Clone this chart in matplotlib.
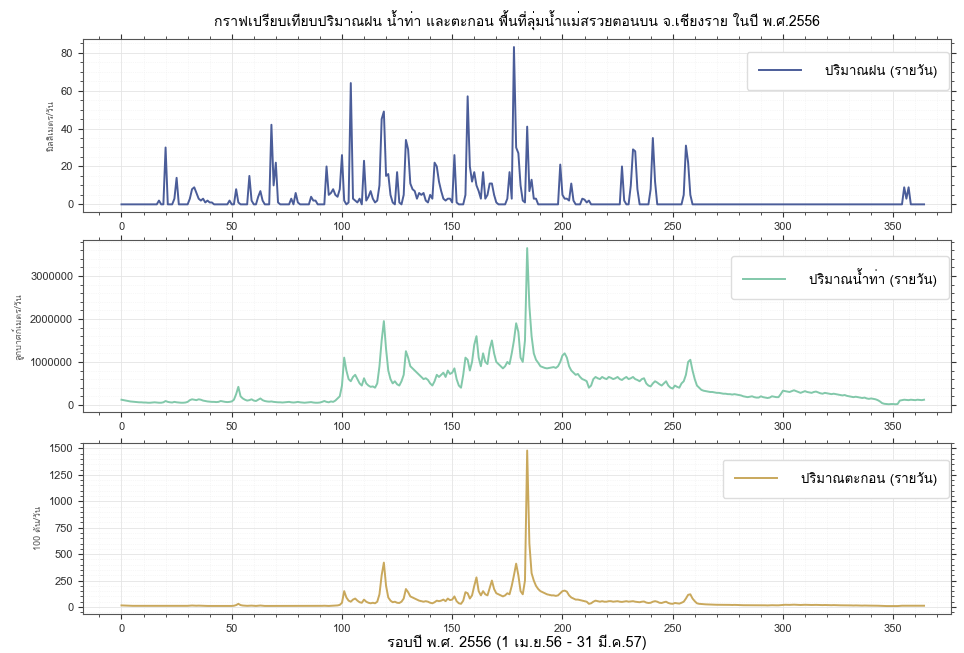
import numpy as np
import matplotlib.pyplot as plt
from matplotlib import font_manager
from matplotlib.ft2font import FT2Font
from matplotlib.ticker import AutoMinorLocator, MultipleLocator


def thai_family():
    # first installed family that carries Thai glyphs
    for f in font_manager.fontManager.ttflist:
        try:
            if 0x0E01 in FT2Font(f.fname).get_charmap():
                return f.name
        except Exception:
            continue
    return None


fam = thai_family()
plt.rcParams['font.family'] = ([fam] if fam else []) + ['DejaVu Sans']

# daily rainfall (mm), only the rainy days are listed
rain_days = [17, 20, 24, 25, 31, 32, 33, 34, 35, 36, 37, 38, 39, 40, 41,
             49, 52, 53, 58, 59, 62, 63, 64, 68, 69, 70, 71, 77, 79, 80,
             86, 87, 88, 93, 94, 95, 96, 97, 98, 99, 100, 101, 103,
             104, 105, 106, 107, 108, 110, 111, 112, 113, 114, 115, 116,
             117, 118, 119, 120, 121, 122, 123, 125, 126, 128, 129, 130,
             131, 132, 133, 134, 135, 136, 137, 138, 139, 140, 141, 142,
             143, 144, 145, 146, 147, 148, 149, 150, 151, 152, 156, 157,
             158, 159, 160, 161, 162, 163, 164, 165, 166, 167, 168, 169,
             170, 175, 176, 177, 178, 179, 180, 181, 182, 183, 184, 185,
             186, 187, 188, 199, 200, 201, 202, 203, 204, 205, 209, 210,
             211, 212, 227, 228, 231, 232, 233, 234, 240, 241, 242, 255,
             256, 257, 258, 355, 356, 357]
rain_mm = [2, 30, 3, 14, 3, 8, 9, 6, 3, 2, 3, 1, 2, 1, 1,
           2, 8, 1, 15, 2, 4, 7, 2, 42, 10, 22, 1, 3, 6, 1,
           4, 2, 2, 20, 5, 6, 8, 5, 4, 8, 26, 2, 1,
           64, 3, 2, 1, 3, 23, 2, 4, 7, 3, 1, 2,
           10, 45, 49, 15, 16, 5, 1, 17, 1, 5, 34, 29,
           11, 8, 7, 3, 6, 5, 6, 2, 1, 5, 3, 22,
           20, 12, 7, 3, 2, 3, 3, 1, 26, 1, 5, 57,
           20, 12, 17, 10, 7, 3, 17, 3, 5, 11, 11, 5,
           1, 3, 17, 3, 83, 30, 27, 10, 2, 1, 41, 7,
           13, 3, 3, 21, 5, 3, 3, 2, 11, 2, 3, 2.5,
           1, 2, 20, 2, 10, 29, 28, 8, 8, 35, 12, 5,
           31, 22, 5, 9, 3, 9]

# daily runoff, thousand m3
flow_k = [
    120, 110, 100, 90, 80, 75, 70, 65, 60, 60,
    55, 55, 50, 50, 55, 60, 55, 50, 50, 60,
    90, 70, 60, 55, 70, 60, 55, 50, 50, 55,
    70, 110, 130, 120, 110, 130, 120, 100, 90, 80,
    75, 70, 70, 65, 70, 90, 80, 70, 65, 70,
    80, 120, 250, 420, 200, 150, 120, 100, 110, 130,
    100, 90, 120, 150, 110, 90, 80, 75, 80, 70,
    65, 60, 60, 55, 60, 65, 70, 60, 55, 60,
    70, 60, 55, 50, 55, 60, 65, 55, 50, 50,
    55, 70, 90, 70, 60, 80, 70, 100, 150, 200,
    450, 1100, 800, 600, 550, 650, 700, 600, 500, 450,
    620, 500, 450, 420, 430, 400, 500, 900, 1500, 1950,
    1300, 800, 600, 500, 550, 480, 450, 550, 700, 1250,
    1100, 900, 850, 800, 750, 700, 650, 600, 620, 580,
    500, 450, 550, 700, 650, 700, 750, 650, 800, 720,
    750, 850, 600, 450, 400, 700, 1100, 1050, 800, 1000,
    1400, 1600, 1100, 900, 1200, 1000, 950, 1300, 1500, 1200,
    1000, 950, 900, 850, 900, 1000, 950, 1200, 1500, 1900,
    1700, 1100, 1000, 1500, 3650, 2300, 1600, 1200, 1050, 980,
    900, 880, 860, 850, 860, 870, 880, 860, 900, 1000,
    1150, 1200, 1100, 900, 800, 750, 700, 720, 650, 600,
    580, 550, 400, 450, 600, 650, 620, 600, 650, 620,
    600, 650, 630, 600, 620, 650, 600, 580, 620, 650,
    600, 620, 650, 600, 580, 550, 600, 620, 500, 450,
    430, 500, 550, 520, 480, 450, 500, 550, 450, 400,
    380, 450, 420, 400, 500, 550, 700, 1000, 1050, 800,
    600, 450, 400, 350, 330, 320, 310, 300, 300, 290,
    280, 280, 270, 260, 260, 250, 250, 240, 250, 240,
    230, 220, 200, 190, 180, 190, 200, 180, 170, 170,
    200, 180, 170, 160, 170, 200, 190, 180, 180, 250,
    330, 320, 310, 300, 320, 340, 320, 300, 280, 300,
    320, 300, 290, 280, 300, 310, 290, 270, 260, 280,
    270, 260, 250, 260, 250, 240, 230, 220, 230, 210,
    200, 190, 180, 190, 180, 170, 160, 170, 150, 140,
    150, 140, 130, 110, 80, 40, 25, 20, 15, 20,
    20, 15, 20, 100, 110, 120, 115, 110, 120, 115,
    110, 120, 115, 110, 120,
]

# daily suspended sediment, 100 t
sed = [
    15, 14, 13, 12, 12, 11, 11, 10, 10, 10,
    10, 10, 10, 10, 10, 10, 10, 10, 10, 10,
    12, 11, 10, 10, 11, 10, 10, 10, 10, 10,
    11, 13, 14, 13, 12, 13, 12, 11, 11, 10,
    10, 10, 10, 10, 10, 10, 10, 10, 10, 10,
    10, 12, 18, 30, 18, 14, 12, 11, 12, 13,
    11, 10, 12, 14, 12, 10, 10, 10, 10, 10,
    10, 10, 10, 10, 10, 10, 10, 10, 10, 10,
    10, 10, 10, 10, 10, 10, 10, 10, 10, 10,
    10, 11, 12, 11, 10, 11, 11, 12, 15, 20,
    40, 150, 90, 60, 50, 70, 80, 60, 45, 40,
    70, 50, 40, 35, 40, 35, 50, 120, 300, 420,
    200, 90, 60, 45, 50, 40, 38, 50, 80, 170,
    140, 100, 90, 80, 70, 60, 55, 50, 55, 50,
    40, 35, 45, 60, 55, 60, 70, 55, 80, 65,
    70, 100, 55, 35, 30, 60, 140, 130, 80, 110,
    200, 280, 150, 110, 150, 120, 110, 180, 250, 170,
    130, 120, 110, 100, 110, 130, 120, 200, 300, 410,
    300, 150, 120, 250, 1480, 600, 320, 250, 200, 170,
    150, 140, 130, 120, 115, 110, 110, 105, 110, 130,
    150, 155, 145, 110, 90, 80, 70, 70, 65, 60,
    55, 50, 30, 35, 50, 60, 55, 50, 55, 50,
    50, 55, 55, 50, 52, 55, 50, 48, 52, 55,
    50, 52, 55, 50, 48, 45, 50, 52, 42, 38,
    40, 50, 55, 50, 40, 38, 45, 50, 38, 32,
    30, 38, 35, 32, 40, 50, 80, 115, 120, 80,
    55, 35, 30, 28, 25, 25, 24, 23, 22, 22,
    21, 21, 20, 20, 20, 20, 20, 19, 20, 19,
    19, 18, 17, 17, 16, 17, 17, 16, 16, 16,
    17, 16, 16, 15, 16, 17, 16, 16, 16, 18,
    21, 21, 20, 20, 21, 22, 21, 20, 19, 20,
    21, 20, 19, 19, 20, 20, 19, 18, 18, 19,
    18, 18, 17, 18, 17, 17, 16, 16, 16, 15,
    15, 15, 14, 15, 14, 14, 13, 14, 13, 13,
    13, 13, 12, 12, 11, 10, 9, 9, 9, 9,
    9, 9, 9, 11, 12, 12, 12, 12, 12, 12,
    12, 12, 12, 12, 12,
]

days = np.arange(len(flow_k))
rain = np.zeros(len(days))
rain[rain_days] = rain_mm
flow = np.array(flow_k) * 1000

fig = plt.figure(figsize=(9.64, 6.53), dpi=100)
ax1 = fig.add_axes([0.086, 0.675, 0.9, 0.265])
ax2 = fig.add_axes([0.086, 0.369, 0.9, 0.263])
ax3 = fig.add_axes([0.086, 0.060, 0.9, 0.262])

series = [
    (ax1, rain, '#4b5d99', 'ปริมาณฝน (รายวัน)', 'มิลลิเมตร/วัน', (0.998, 0.925)),
    (ax2, flow, '#82c8aa', 'ปริมาณน้ำท่า (รายวัน)', 'ลูกบาศก์เมตร/วัน', (0.998, 0.907)),
    (ax3, sed, '#c9a85c', 'ปริมาณตะกอน (รายวัน)', '100 ตัน/วัน', (0.998, 0.90)),
]

for ax, y, col, lab, ylab, lpos in series:
    ax.plot(days, y, color=col, lw=1.4, label=lab)
    ax.set_xlim(-17.5, 376)
    ax.xaxis.set_major_locator(MultipleLocator(50))
    ax.xaxis.set_minor_locator(MultipleLocator(10))
    ax.yaxis.set_minor_locator(AutoMinorLocator())
    ax.tick_params(which='both', direction='out', top=True, right=True,
                   labelsize=8, colors='#333333')
    ax.tick_params(which='major', length=3.5)
    ax.tick_params(which='minor', length=2)
    ax.grid(which='major', color='#e4e4e4', lw=0.6)
    ax.grid(which='minor', color='#f0f0f0', lw=0.5, ls=':')
    for s in ax.spines.values():
        s.set_color('#555555')
        s.set_linewidth(0.8)
    ax.set_ylabel(ylab, fontsize=6.5, color='#555555')
    ax.legend(loc='upper right', bbox_to_anchor=lpos, fontsize=9.5,
              handlelength=3.2, borderpad=0.9, handletextpad=1.8,
              borderaxespad=0, framealpha=1, edgecolor='#dddddd')

ax2.ticklabel_format(axis='y', style='plain')
ax1.set_title('กราฟเปรียบเทียบปริมาณฝน น้ำท่า และตะกอน พื้นที่ลุ่มน้ำแม่สรวยตอนบน จ.เชียงราย ในปี พ.ศ.2556',
              fontsize=10.1, pad=9)
ax3.set_xlabel('รอบปี พ.ศ. 2556 (1 เม.ย.56 - 31 มี.ค.57)', fontsize=10.5, labelpad=1)

fig.savefig('out.png', dpi=100)
